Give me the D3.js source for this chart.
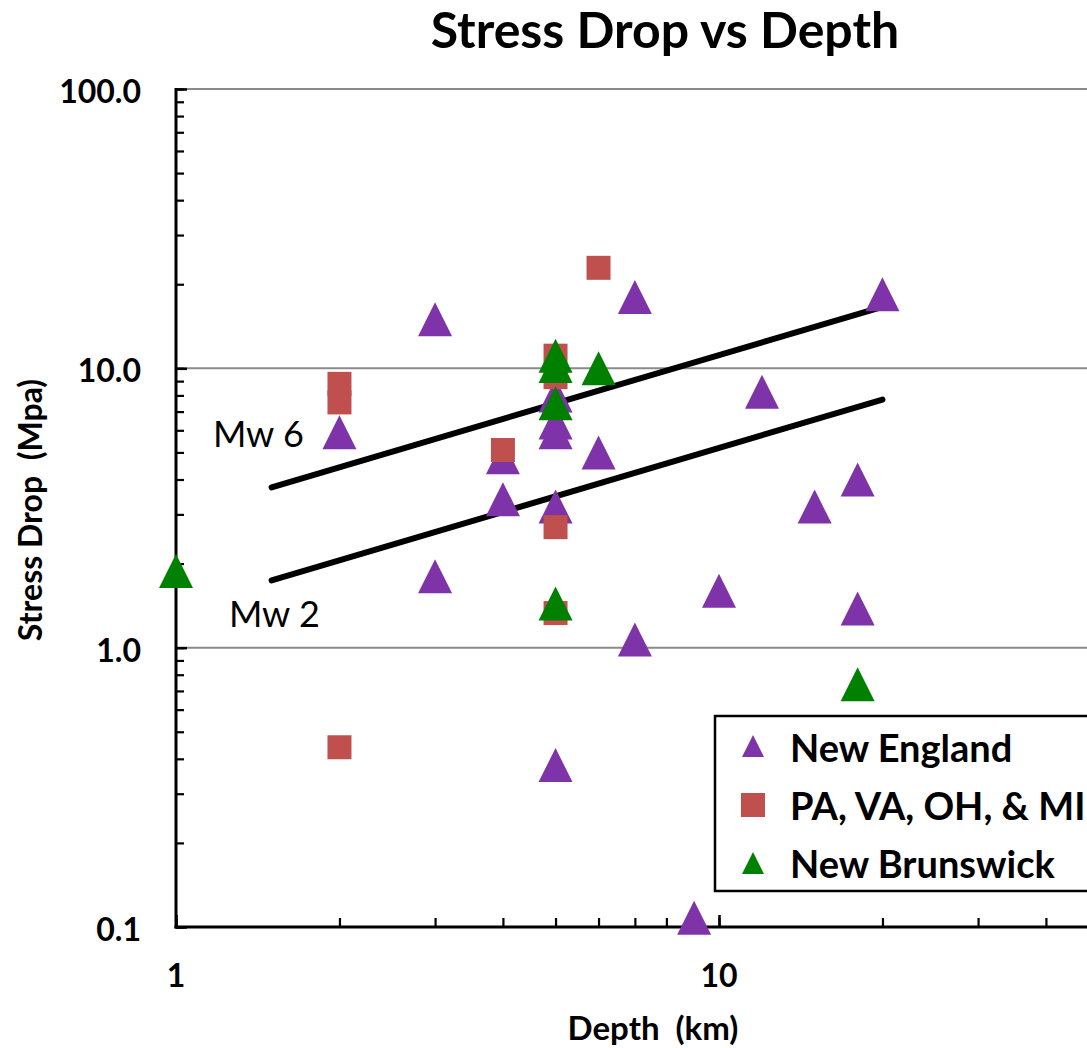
<!DOCTYPE html>
<html>
<head>
<meta charset="utf-8">
<script src="https://cdn.jsdelivr.net/npm/d3@7"></script>
<style>
  html, body { margin: 0; padding: 0; background: #fff; }
  svg { display: block; }
</style>
</head>
<body>
<svg id="chart" width="1087" height="1048"></svg>
<script>
// ---------- data ----------
const seriesNames = ["New England", "PA, VA, OH, & MI", "New Brunswick"];

const neDepth  = [2, 3, 3, 4, 4, 5, 5, 5, 5, 5, 6, 7, 7, 9, 10, 12, 15, 18, 18, 20];
const neStress = [5.9, 15, 1.8, 4.8, 3.4, 8.0, 6.4, 5.9, 3.2, 0.38, 5.0, 18, 1.07, 0.108, 1.6, 8.25, 3.2, 4.0, 1.38, 18.4];

const paDepth  = [2, 2, 2, 4, 5, 5, 5, 5, 6];
const paStress = [8.8, 7.55, 0.44, 5.1, 11.1, 9.3, 2.7, 1.33, 22.9];

const nbDepth  = [1, 5, 5, 5, 5, 6, 18];
const nbStress = [1.88, 11.1, 10.2, 7.5, 1.44, 10.0, 0.74];

const mw6Depth  = [1.5, 20];
const mw6Stress = [3.75, 16.6];
const mw2Depth  = [1.5, 20];
const mw2Stress = [1.74, 7.73];

// visible x tick labels (the 100 end of the axis lies beyond the picture)
const xTickValues = [1, 10];
const xTickLabels = ["1", "10"];
const yTickValues = [0.1, 1, 10, 100];
const yTickLabels = ["0.1", "1.0", "10.0", "100.0"];

// ---------- layout ----------
const W = 1087, H = 1048;
const svg = d3.select("#chart");
const FONT = "Lato, 'Open Sans', sans-serif";

const x = d3.scaleLog().domain([1, 100]).range([176, 1262]);
const y = d3.scaleLog().domain([0.1, 100]).range([927, 89]);

const colNE = "#7E33A9", colPA = "#C0504D", colNB = "#008000";

// gridlines
svg.append("g").selectAll("line")
  .data([1, 10, 100]).join("line")
  .attr("x1", x(1)).attr("x2", W)
  .attr("y1", d => y(d)).attr("y2", d => y(d))
  .attr("stroke", "#8a8a8a").attr("stroke-width", 2);

// axes (ticks inside)
const minorY = y.ticks();
const minorX = x.ticks();
const axisG = svg.append("g");

axisG.append("g").attr("transform", `translate(${x(1)},0)`)
  .call(d3.axisRight(y).tickValues(minorY).tickSize(8).tickFormat(""))
  .call(g => g.select(".domain").remove())
  .selectAll("line").attr("stroke", "#000").attr("stroke-width", 2.2);
axisG.append("g").attr("transform", `translate(${x(1)},0)`)
  .call(d3.axisRight(y).tickValues(yTickValues).tickSize(11).tickFormat(""))
  .call(g => g.select(".domain").remove())
  .selectAll("line").attr("stroke", "#000").attr("stroke-width", 2.5);

axisG.append("g").attr("transform", `translate(0,${y(0.1)})`)
  .call(d3.axisTop(x).tickValues(minorX).tickSize(9).tickFormat(""))
  .call(g => g.select(".domain").remove())
  .selectAll("line").attr("stroke", "#000").attr("stroke-width", 2.2);
axisG.append("g").attr("transform", `translate(0,${y(0.1)})`)
  .call(d3.axisTop(x).tickValues([1, 10, 100]).tickSize(12).tickFormat(""))
  .call(g => g.select(".domain").remove())
  .selectAll("line").attr("stroke", "#000").attr("stroke-width", 2.5);

// axis lines
svg.append("line").attr("x1", x(1)).attr("x2", x(1)).attr("y1", y(100) - 1).attr("y2", y(0.1) + 1.5)
  .attr("stroke", "#000").attr("stroke-width", 3);
svg.append("line").attr("x1", x(1) - 1.5).attr("x2", W).attr("y1", y(0.1)).attr("y2", y(0.1))
  .attr("stroke", "#000").attr("stroke-width", 3);

// tick labels
svg.append("g").selectAll("text").data(yTickValues).join("text")
  .attr("x", 141).attr("y", d => y(d) + 14)
  .attr("text-anchor", "end")
  .attr("font-family", FONT).attr("font-weight", 700).attr("font-size", 32)
  .attr("fill", "#000")
  .text((d, i) => yTickLabels[i]);

svg.append("g").selectAll("text").data(xTickValues).join("text")
  .attr("x", d => x(d)).attr("y", 987)
  .attr("text-anchor", "middle")
  .attr("font-family", FONT).attr("font-weight", 700).attr("font-size", 32)
  .attr("fill", "#000")
  .text((d, i) => xTickLabels[i]);

// title & axis titles
svg.append("text").attr("x", 665).attr("y", 48).attr("text-anchor", "middle")
  .attr("font-family", FONT).attr("font-weight", 700).attr("font-size", 50)
  .attr("fill", "#000").text("Stress Drop vs Depth");

svg.append("text").attr("x", 653).attr("y", 1040).attr("text-anchor", "middle")
  .attr("font-family", FONT).attr("font-weight", 700).attr("font-size", 33)
  .attr("fill", "#000").style("white-space", "pre")
  .text("Depth  (km)");

svg.append("text").attr("transform", "translate(42,510) rotate(-90)")
  .attr("text-anchor", "middle")
  .attr("font-family", FONT).attr("font-weight", 700).attr("font-size", 32)
  .attr("fill", "#000").style("white-space", "pre")
  .text("Stress Drop  (Mpa)");

// Mw lines
const line = d3.line().x(d => x(d[0])).y(d => y(d[1]));
[[mw6Depth, mw6Stress], [mw2Depth, mw2Stress]].forEach(([dx, dy]) => {
  svg.append("path").datum(dx.map((d, i) => [d, dy[i]]))
    .attr("d", line).attr("fill", "none")
    .attr("stroke", "#000").attr("stroke-width", 6).attr("stroke-linecap", "round");
});
svg.append("text").attr("x", 213).attr("y", 447)
  .attr("font-family", FONT).attr("font-size", 36).attr("fill", "#000").text("Mw 6");
svg.append("text").attr("x", 229).attr("y", 627)
  .attr("font-family", FONT).attr("font-size", 36).attr("fill", "#000").text("Mw 2");

// markers
const tri = (w) => `M0,${-w/2}L${w/2},${w/2}L${-w/2},${w/2}Z`;
const sq = (w) => `M${-w/2},${-w/2}h${w}v${w}h${-w}Z`;

function drawSeries(dep, str, path, color) {
  svg.append("g").selectAll("path")
    .data(dep.map((d, i) => [d, str[i]])).join("path")
    .attr("transform", d => `translate(${x(d[0])},${y(d[1])})`)
    .attr("d", path).attr("fill", color);
}
drawSeries(neDepth, neStress, tri(34), colNE);
drawSeries(paDepth, paStress, sq(24), colPA);
drawSeries(nbDepth, nbStress, tri(34), colNB);

// legend
const lg = svg.append("g");
lg.append("rect").attr("x", 715).attr("y", 716).attr("width", 420).attr("height", 175)
  .attr("fill", "#fff").attr("stroke", "#000").attr("stroke-width", 2.5);
const legendItems = [
  { name: seriesNames[0], path: tri(22), color: colNE, cy: 746, by: 762 },
  { name: seriesNames[1], path: sq(24), color: colPA, cy: 805, by: 820 },
  { name: seriesNames[2], path: tri(22), color: colNB, cy: 863, by: 878 }
];
legendItems.forEach(it => {
  lg.append("path").attr("transform", `translate(753,${it.cy})`).attr("d", it.path).attr("fill", it.color);
  lg.append("text").attr("x", 790).attr("y", it.by)
    .attr("font-family", FONT).attr("font-weight", 700).attr("font-size", 38)
    .attr("fill", "#000").text(it.name);
});
</script>
</body>
</html>
